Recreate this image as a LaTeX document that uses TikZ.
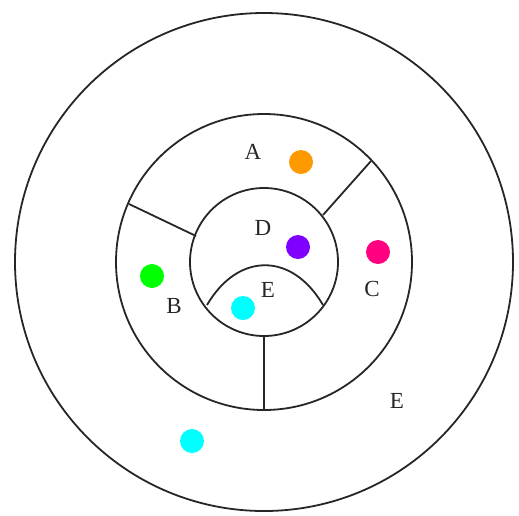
\documentclass[tikz,border=0pt]{standalone}
\usepackage{fontspec}
\setmainfont{Liberation Serif}
\definecolor{dorange}{HTML}{FF9900}
\definecolor{dpurple}{HTML}{8000FF}
\definecolor{dmagenta}{HTML}{FF0080}
\definecolor{dgreen}{HTML}{00FF00}
\definecolor{dcyan}{HTML}{00FFFF}
\begin{document}
\begin{tikzpicture}[x=1pt,y=-1pt,
  ring/.style={draw=black!85,line width=1.8pt},
  dot/.style={circle,inner sep=0pt,minimum size=24pt},
  lab/.style={inner sep=0pt,font=\fontsize{23}{23}\selectfont,text=black!85}]
\useasboundingbox (0,0) rectangle (519,515);
\coordinate (c) at (264,262);
% circles
\draw[ring] (c) circle[radius=249];
\draw[ring] (c) circle[radius=148];
\draw[ring] (c) circle[radius=74];
% radial dividers
\coordinate (b1o) at (129,204);
\coordinate (b1i) at (196,236);
\coordinate (b2o) at (371,161);
\coordinate (b2i) at (323,215);
\coordinate (b3i) at (264,336);
\coordinate (b3o) at (264,410);
\draw[ring] (b1o) -- (b1i);
\draw[ring] (b2o) -- (b2i);
\draw[ring] (b3i) -- (b3o);
% inner arc
\coordinate (al) at (207,305);
\coordinate (ar) at (323,305);
\draw[ring] (al) .. controls (238,252) and (292,252) .. (ar);
% dots
\node[dot,fill=dorange] (po) at (301,162) {};
\node[dot,fill=dpurple] (pp) at (298,247) {};
\node[dot,fill=dmagenta] (pm) at (378,252) {};
\node[dot,fill=dgreen] (pg) at (152,276) {};
\node[dot,fill=dcyan] (pc1) at (243,308) {};
\node[dot,fill=dcyan] (pc2) at (192,441) {};
% labels
\node[lab] (la) at (253,152) {A};
\node[lab] (ld) at (263,228) {D};
\node[lab] (le1) at (268,290) {E};
\node[lab] (lb) at (174,306) {B};
\node[lab] (lc) at (372,289) {C};
\node[lab] (le2) at (397,401) {E};
\end{tikzpicture}
\end{document}
